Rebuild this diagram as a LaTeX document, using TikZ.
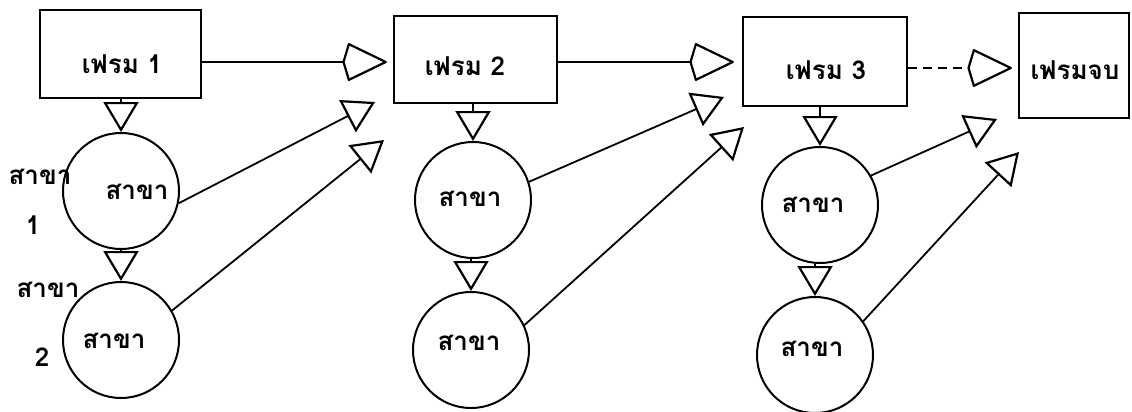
\documentclass[tikz,border=0pt]{standalone}
\usepackage{fontspec}
\newfontfamily\thaifont[Script=Thai]{Loma}
\usetikzlibrary{arrows.meta}
\tikzset{
  frame/.style={draw, line width=2.2pt, inner sep=0pt},
  branch/.style={draw, circle, line width=2pt, minimum size=116pt, inner sep=0pt},
  lbl/.style={font=\thaifont\bfseries\fontsize{26}{28}\selectfont, inner sep=0pt},
  flow/.style={line width=2.2pt, -{Stealth[open, length=40pt, width=38pt, inset=-6pt, round, line width=2.2pt]}},
  down/.style={line width=2pt, -{Triangle[open, length=30pt, width=35pt, line width=2.2pt]}},
  diag/.style={line width=1.8pt, -{Triangle[open, length=31pt, width=36pt, line width=2.2pt]}}
}
\begin{document}
\begin{tikzpicture}[x=1pt,y=-1pt]
\useasboundingbox (0,0) rectangle (1132,412);
% frames
\node[frame, minimum width=161pt, minimum height=88pt] (b1) at (120.5,54) {};
\node[lbl] (t1) at (122,64) {เฟรม 1};
\node[frame, minimum width=163pt, minimum height=87pt] (b2) at (475.5,59.5) {};
\node[lbl] (t2) at (465,66) {เฟรม 2};
\node[frame, minimum width=164pt, minimum height=89pt] (b3) at (825,61.5) {};
\node[lbl] (t3) at (826,70) {เฟรม 3};
\node[frame, minimum width=110pt, minimum height=105pt] (b4) at (1074,65.5) {};
\node[lbl] (t4) at (1075,70) {เฟรมจบ};
% branches
\node[branch] (c11) at (121,191) {};
\node[branch] (c12) at (121,340) {};
\node[branch] (c21) at (473,200) {};
\node[branch] (c22) at (471,350) {};
\node[branch] (c31) at (820,205) {};
\node[branch] (c32) at (815,355) {};
\node[lbl] (s11) at (137,192) {สาขา};
\node[lbl] (s12) at (114,341) {สาขา};
\node[lbl] (s21) at (470,199) {สาขา};
\node[lbl] (s22) at (469,343) {สาขา};
\node[lbl] (s31) at (813,205) {สาขา};
\node[lbl] (s32) at (812,349) {สาขา};
% left labels
\node[lbl] (l1) at (40,177) {สาขา};
\node[lbl] (n1) at (33,225) {1};
\node[lbl] (l2) at (48,290) {สาขา};
\node[lbl] (n2) at (42,357) {2};
% horizontal flow
\draw[flow, shorten >=6pt] (b1.east |- 0,62) -- (b2.west |- 0,62);
\draw[flow, shorten >=8pt] (b2.east |- 0,62) -- (b3.west |- 0,62);
\draw[flow, dash pattern=on 9pt off 6pt, shorten >=6pt] (b3.east |- 0,68) -- (b4.west |- 0,68);
% downward arrows
\draw[down] (c11.north |- b1.south) -- (c11.north);
\draw[down] (c12.north |- c11.south) -- (c12.north);
\draw[down] (c21.north |- b2.south) -- (c21.north);
\draw[down] (c22.north |- c21.south) -- (c22.north);
\draw[down] (c31.north |- b3.south) -- (c31.north);
\draw[down] (c32.north |- c31.south) -- (c32.north);
% diagonal arrows
\coordinate (d11) at (375,102);
\coordinate (d12) at (384,140);
\coordinate (d21) at (724,97);
\coordinate (d22) at (744,127);
\coordinate (d31) at (997,119);
\coordinate (d32) at (1019,152);
\draw[diag] (c11.-12) -- (d11);
\draw[diag] (c12.30) -- (d12);
\draw[diag] (c21.18) -- (d21);
\draw[diag] (c22.25) -- (d22);
\draw[diag] (c31.30) -- (d31);
\draw[diag] (c32.35) -- (d32);
\end{tikzpicture}
\end{document}
